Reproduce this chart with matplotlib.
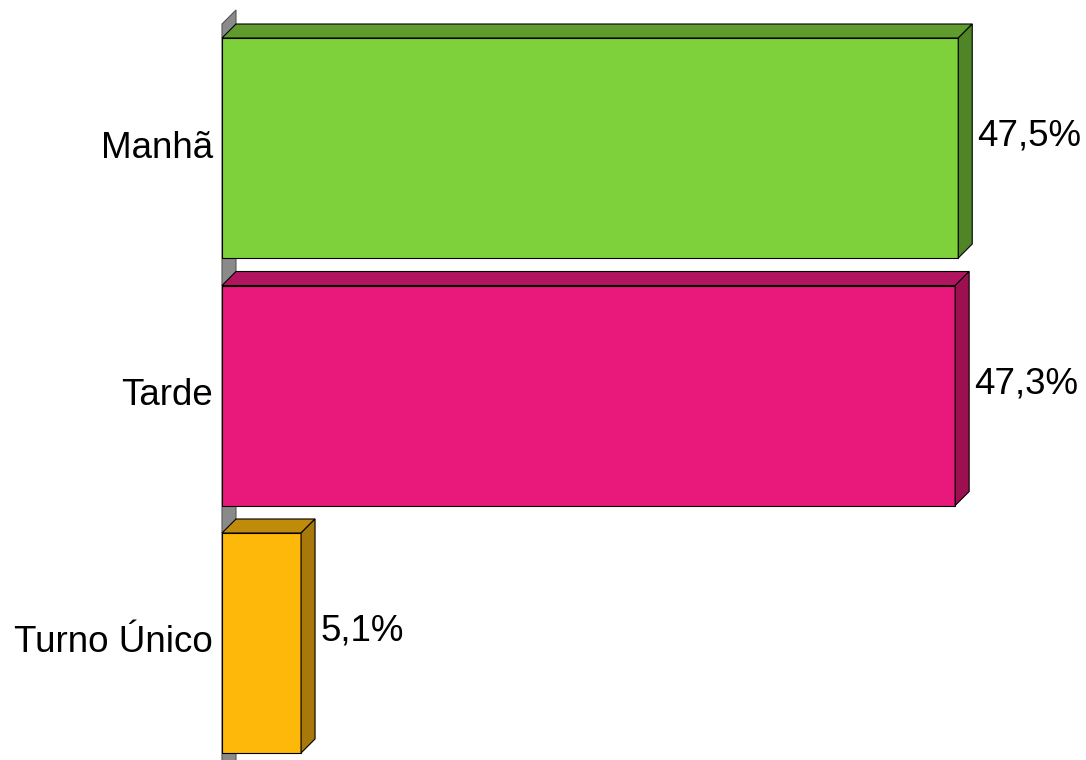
import matplotlib
matplotlib.use("Agg")
import matplotlib.pyplot as plt
from matplotlib.patches import Polygon

# dados
turnos = ["Manhã", "Tarde", "Turno Único"]
valores = [47.5, 47.3, 5.1]
rotulos = ["47,5%", "47,3%", "5,1%"]

# cores: frente, topo, lateral
cor_frente = ["#7FD13B", "#E8197B", "#FEB80A"]
cor_topo = ["#5F9B2D", "#B2155F", "#C08A0B"]
cor_lado = ["#4F8527", "#9C0F50", "#A8780A"]

plt.rcParams['font.family'] = ['Liberation Sans', 'DejaVu Sans']

fig = plt.figure(figsize=(10.86, 7.6), dpi=100)
ax = fig.add_axes([0, 0, 1, 1])

# escala: 15.5 px por %, 247.5 px por categoria
px_x = 15.5
px_y = 247.5
x0_px = 222
y0_px = 148
ax.set_xlim(-x0_px / px_x, (1086 - x0_px) / px_x)
ax.set_ylim((760 - y0_px) / px_y, -y0_px / px_y)
ax.axis('off')

dx = 14 / px_x      # profundidade em x
dy = 14 / px_y      # profundidade em y
h = 110 / px_y      # meia altura da barra

# parede cinza
topo_parede = (24 - y0_px) / px_y
parede = Polygon([(0, topo_parede), (dx, topo_parede - dy), (dx, 3.0), (0, 3.0)],
                 closed=True, facecolor="#8A8A8A", edgecolor="#555555", lw=0.8, zorder=1)
ax.add_patch(parede)

for i, v in enumerate(valores):
    topo, base = i - h, i + h
    frente = Polygon([(0, topo), (v, topo), (v, base), (0, base)],
                     facecolor=cor_frente[i], edgecolor="black", lw=0.8, zorder=3)
    cima = Polygon([(0, topo), (dx, topo - dy), (v + dx, topo - dy), (v, topo)],
                   facecolor=cor_topo[i], edgecolor="black", lw=0.8, zorder=3)
    lado = Polygon([(v, topo), (v + dx, topo - dy), (v + dx, base - dy), (v, base)],
                   facecolor=cor_lado[i], edgecolor="black", lw=0.8, zorder=3)
    for p in (frente, cima, lado):
        ax.add_patch(p)
    ax.text(-9 / px_x, i, turnos[i], ha='right', va='center', fontsize=26.5, zorder=4)
    ax.text(v + dx + 5 / px_x, i - 12 / px_y, rotulos[i], ha='left', va='center',
            fontsize=26.5, zorder=4)

fig.savefig("out.png", dpi=100)
